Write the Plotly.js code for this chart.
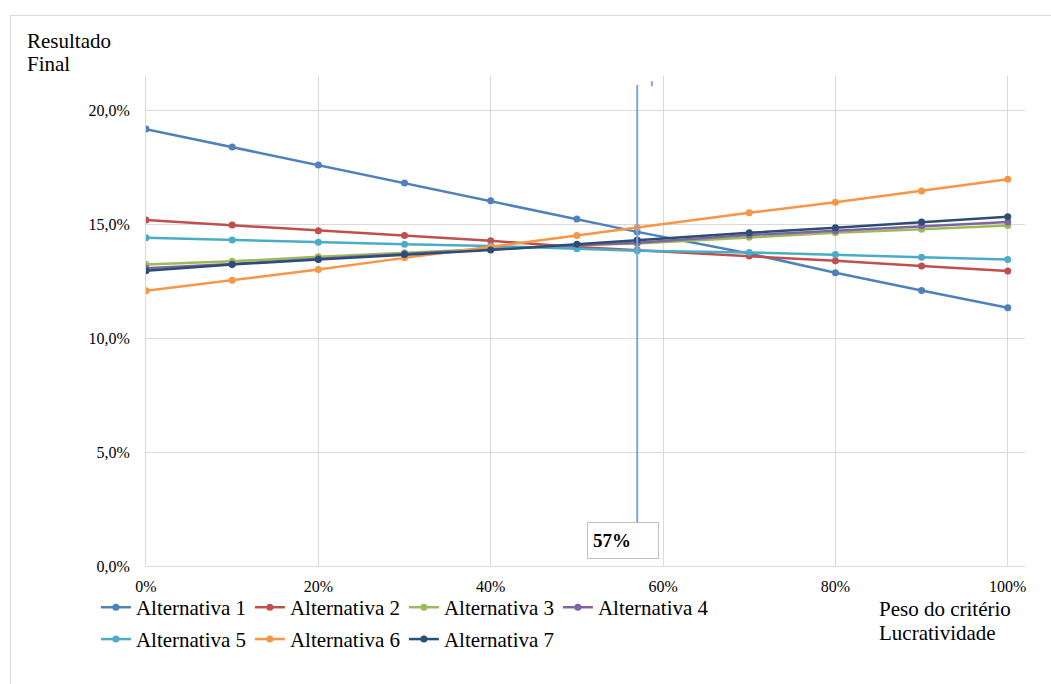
<!DOCTYPE html>
<html>
<head>
<meta charset="utf-8">
<script src="https://cdn.plot.ly/plotly-3.0.1.min.js"></script>
<style>
  html, body { margin: 0; padding: 0; background: #ffffff; }
  #frame { position: absolute; left: 10px; top: 15px; width: 1100px; height: 700px;
           border-left: 1px solid #d9d9d9; border-top: 1px solid #d9d9d9; }
  #chart { position: absolute; left: 0; top: 0; width: 1051px; height: 684px; }
</style>
</head>
<body>
<div id="frame"></div>
<div id="chart"></div>
<script>
// Peso do critério Lucratividade (x) and Resultado Final (%) per alternative
const pesos = [0, 0.1, 0.2, 0.3, 0.4, 0.5, 0.57, 0.7, 0.8, 0.9, 1.0];
const alternativa1 = [19.17, 18.38, 17.59, 16.80, 16.03, 15.23, 14.66, 13.71, 12.87, 12.09, 11.33];
const alternativa2 = [15.18, 14.96, 14.71, 14.50, 14.27, 14.00, 13.86, 13.60, 13.39, 13.16, 12.94];
const alternativa3 = [13.23, 13.37, 13.57, 13.74, 13.92, 14.08, 14.15, 14.42, 14.62, 14.78, 14.94];
const alternativa4 = [13.06, 13.25, 13.48, 13.70, 13.90, 14.07, 14.18, 14.52, 14.71, 14.93, 15.09];
const alternativa5 = [14.40, 14.30, 14.20, 14.12, 14.04, 13.92, 13.83, 13.76, 13.67, 13.55, 13.45];
const alternativa6 = [12.08, 12.54, 13.01, 13.52, 14.00, 14.50, 14.85, 15.50, 15.96, 16.45, 16.97];
const alternativa7 = [12.96, 13.23, 13.45, 13.67, 13.86, 14.12, 14.30, 14.62, 14.84, 15.09, 15.32];
const nomes = ["Alternativa 1", "Alternativa 2", "Alternativa 3", "Alternativa 4",
               "Alternativa 5", "Alternativa 6", "Alternativa 7"];
const pesoCritico = 0.57;
const rotuloCritico = "57%";
const xTicks = [0, 0.2, 0.4, 0.6, 0.8, 1.0];
const yTicks = [0, 0.05, 0.10, 0.15, 0.20];

const series = [alternativa1, alternativa2, alternativa3, alternativa4, alternativa5, alternativa6, alternativa7];
const cores = ["#4f81bd", "#c0504d", "#9bbb59", "#8064a2", "#4bacc6", "#f79646", "#2c4d75"];

const serif = "Times New Roman, Liberation Serif, Tinos, DejaVu Serif, Noto Serif, FreeSerif, serif";

const traces = series.map((vals, i) => ({
  type: "scatter",
  mode: "lines+markers",
  name: nomes[i],
  x: pesos,
  y: vals.map(v => v / 100),
  line: { color: cores[i], width: 2.5 },
  marker: { color: cores[i], size: 7 },
  legend: i < 4 ? "legend" : "legend2",
  hoverinfo: "x+y+name"
}));

const legendCommon = {
  orientation: "h",
  xanchor: "left",
  yanchor: "top",
  font: { family: serif, size: 21, color: "#000" },
  bgcolor: "rgba(0,0,0,0)",
  entrywidth: 109,
  entrywidthmode: "pixels",
  itemclick: false,
  itemdoubleclick: false
};

const layout = {
  width: 1051,
  height: 684,
  margin: { l: 146, r: 26, t: 76, b: 118 },
  paper_bgcolor: "rgba(0,0,0,0)",
  plot_bgcolor: "rgba(0,0,0,0)",
  separators: ",.",
  showlegend: true,
  font: { family: serif, color: "#000" },
  xaxis: {
    range: [0, 1.02],
    tickvals: xTicks,
    tickformat: ".0%",
    showgrid: true,
    gridcolor: "#d9d9d9",
    gridwidth: 1,
    zeroline: false,
    showline: true,
    linecolor: "#d9d9d9",
    linewidth: 1,
    ticks: "",
    ticklabelstandoff: 6,
    tickfont: { family: serif, size: 16, color: "#000" },
    fixedrange: true
  },
  yaxis: {
    range: [0, 0.215],
    tickvals: yTicks,
    tickformat: ".1%",
    showgrid: true,
    gridcolor: "#d9d9d9",
    gridwidth: 1,
    zeroline: false,
    showline: true,
    linecolor: "#d9d9d9",
    linewidth: 1,
    ticks: "",
    ticklabelstandoff: 12,
    tickfont: { family: serif, size: 16, color: "#000" },
    fixedrange: true
  },
  legend: Object.assign({ x: -0.057, y: -0.043 }, legendCommon),
  legend2: Object.assign({ x: -0.057, y: -0.108 }, legendCommon),
  shapes: [
    { type: "line", xref: "x", yref: "y", x0: pesoCritico, x1: pesoCritico, y0: 0.0193, y1: 0.211,
      line: { color: "#7fa6da", width: 2 } },
    { type: "line", xref: "x", yref: "y", x0: 0.587, x1: 0.587, y0: 0.2105, y1: 0.2127,
      line: { color: "#7fa6da", width: 2 } }
  ],
  annotations: [
    { xref: "x", yref: "y", x: 0.5535, y: 0.0112, xanchor: "center", yanchor: "middle",
      text: "<b>" + rotuloCritico + "</b>", showarrow: false, align: "left",
      width: 60, height: 25, borderpad: 5, bordercolor: "#bfbfbf", borderwidth: 1, bgcolor: "#ffffff",
      font: { family: serif, size: 19, color: "#000" } },
    { xref: "paper", yref: "paper", x: -0.1377, y: 1.0714, xanchor: "left", yanchor: "middle",
      text: "Resultado", showarrow: false, font: { family: serif, size: 21, color: "#000" } },
    { xref: "paper", yref: "paper", x: -0.1377, y: 1.0235, xanchor: "left", yanchor: "middle",
      text: "Final", showarrow: false, font: { family: serif, size: 21, color: "#000" } },
    { xref: "paper", yref: "paper", x: 0.8316, y: -0.0878, xanchor: "left", yanchor: "middle",
      text: "Peso do critério", showarrow: false, font: { family: serif, size: 21, color: "#000" } },
    { xref: "paper", yref: "paper", x: 0.8316, y: -0.1367, xanchor: "left", yanchor: "middle",
      text: "Lucratividade", showarrow: false, font: { family: serif, size: 21, color: "#000" } }
  ]
};

Plotly.newPlot("chart", traces, layout, { displayModeBar: false, responsive: false, staticPlot: false });
</script>
</body>
</html>
